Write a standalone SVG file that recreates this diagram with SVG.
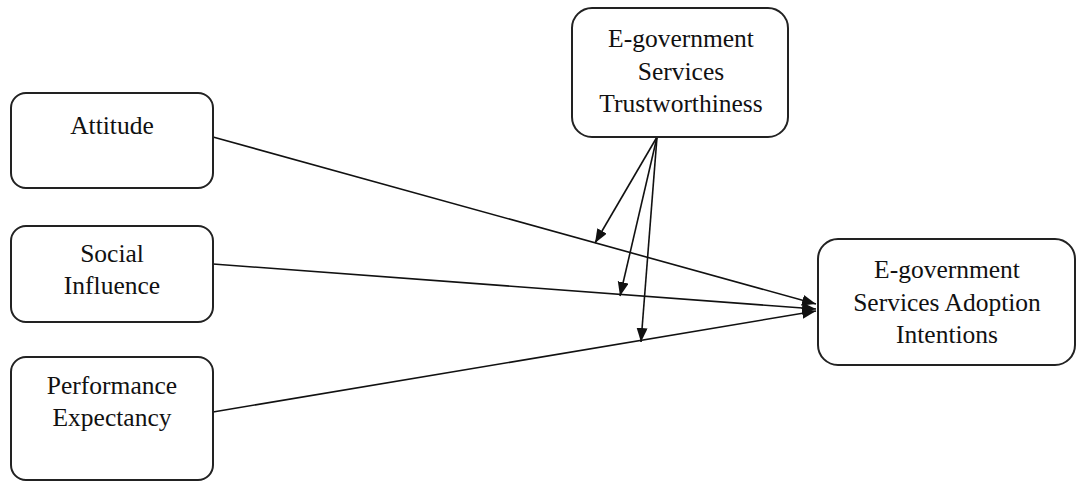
<svg xmlns="http://www.w3.org/2000/svg" width="1077" height="482" viewBox="0 0 1077 482">
<style>
.box{fill:#fff;stroke:#222;stroke-width:2}
.t{font-family:"Liberation Serif","Times New Roman",serif;font-size:25.5px;fill:#111;text-anchor:middle}
.c{stroke:#111;stroke-width:1.6;fill:none;marker-end:url(#ah)}
</style>
<defs>
<marker id="ah" markerWidth="15" markerHeight="12" refX="14" refY="5.5" orient="auto" markerUnits="userSpaceOnUse">
<path d="M0,0 L14,5.5 L0,11 Z" fill="#111"/>
</marker>
</defs>
<rect width="1077" height="482" fill="#fff"/>
<g id="connectors">
<line class="c" x1="213" y1="137" x2="816" y2="304"/>
<line class="c" x1="213" y1="264" x2="816" y2="309"/>
<line class="c" x1="213" y1="412" x2="816" y2="311"/>
<line class="c" x1="657" y1="137" x2="595" y2="243"/>
<line class="c" x1="657" y1="137" x2="620" y2="296"/>
<line class="c" x1="657" y1="137" x2="641" y2="342"/>
</g>
<g id="attitude">
<rect class="box" x="11" y="93" width="202" height="95" rx="15"/>
<text class="t" x="112" y="134">Attitude</text>
</g>
<g id="social">
<rect class="box" x="11" y="226" width="202" height="96" rx="15"/>
<text class="t" x="112" y="262">Social</text>
<text class="t" x="112" y="294">Influence</text>
</g>
<g id="performance">
<rect class="box" x="11" y="357" width="202" height="123" rx="15"/>
<text class="t" x="112" y="394">Performance</text>
<text class="t" x="112" y="426">Expectancy</text>
</g>
<g id="trust">
<rect class="box" x="572" y="8" width="216" height="129" rx="20"/>
<text class="t" x="681" y="47">E-government</text>
<text class="t" x="681" y="80">Services</text>
<text class="t" x="681" y="112">Trustworthiness</text>
</g>
<g id="adoption">
<rect class="box" x="818" y="239" width="257" height="126" rx="20"/>
<text class="t" x="947" y="278">E-government</text>
<text class="t" x="947" y="311">Services Adoption</text>
<text class="t" x="947" y="343">Intentions</text>
</g>
</svg>
